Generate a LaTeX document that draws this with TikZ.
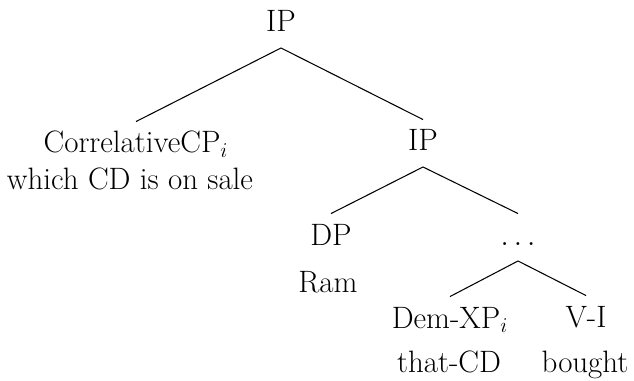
\documentclass[tikz,border=0pt]{standalone}
\begin{document}
\begin{tikzpicture}[x=0.02cm, y=-0.02cm, line width=0.6pt,
    nodes={font=\fontsize{17.6}{21}\selectfont, anchor=base, inner xsep=0pt},
    cat/.style={text height=11.6pt, text depth=2.8pt, inner ysep=6pt}]
        \useasboundingbox (0,0) rectangle (634,381);
        \node[cat] (ip) at (281,32) {IP};
        \node[cat] (cp) at (136,153) {CorrelativeCP$_i$};
        \node (cpword) at (130,190) {which CD is on sale};
        \node[cat] (ipr) at (423,151) {IP};
        \node[cat] (dp) at (331,245) {DP};
        \node (dpword) at (328,292) {Ram};
        \node[cat] (dots) at (518,245) {$\ldots$};
        \node[cat] (dem) at (450,328) {Dem-XP$_i$};
        \node (demword) at (449,372) {that-CD};
        \node[cat] (vi) at (586,327) {V-I};
        \node (viword) at (585,372) {bought};
        \draw (cp.north) -- (ip.south) -- (ipr.north);
        \draw (dp.north) -- (ipr.south) -- (dots.north);
        \draw (dem.north) -- (dots.south) -- (vi.north);
      \end{tikzpicture}
\end{document}
